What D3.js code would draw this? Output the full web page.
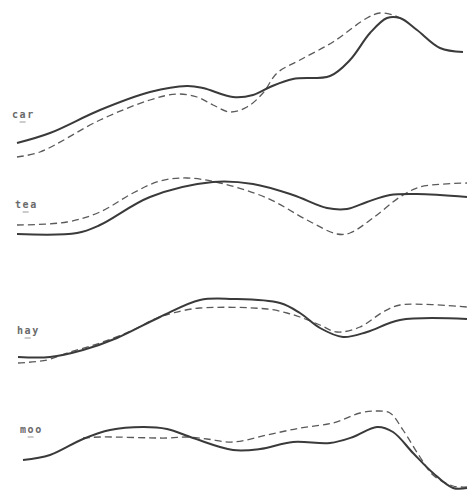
<!DOCTYPE html>
<html><head><meta charset="utf-8">
<script src="https://cdn.jsdelivr.net/npm/d3@7"></script>
<style>html,body{margin:0;padding:0;background:#fff;}</style>
</head><body>
<svg id="c" width="470" height="494"></svg>
<script>
const words = ["car", "tea", "hay", "moo"];
const stressIndex = [1, 1, 1, 1];

const carSolid = [[0,17],[33,27],[83,50],[133,68],[170,74],[186,72],[216,63],[236,65],[253,73],[276,81],[313,84],[333,100],[353,127],[370,142],[383,142],[400,130],[423,112],[446,108]];
const carDashed = [[0,3],[23,8],[83,40],[133,60],[160,66],[180,63],[196,55],[213,48],[230,53],[246,67],[260,87],[283,100],[316,118],[350,142],[363,147],[376,145],[383,142]];

const teaSolid = [[0,6],[60,7],[83,15],[133,43],[196,58],[236,56],[276,45],[310,32],[330,31],[350,38],[373,45],[400,46],[450,43]];
const teaDashed = [[0,15],[50,18],[83,28],[116,47],[143,59],[170,62],[203,57],[250,42],[290,20],[320,6],[333,7],[356,22],[383,43],[403,53],[450,57]];

const haySolid = [[1,8],[33,8],[66,15],[100,27],[143,48],[183,65],[216,66],[263,62],[283,52],[303,37],[326,28],[350,33],[383,45],[450,46]];
const hayDashed = [[1,2],[30,5],[50,12],[83,22],[116,35],[140,47],[156,52],[183,57],[250,56],[270,52],[283,48],[303,40],[320,33],[343,38],[366,53],[383,60],[450,58]];

const mooSolid = [[6,30],[33,35],[66,51],[93,60],[126,63],[150,61],[176,52],[216,40],[243,41],[276,48],[313,47],[336,53],[360,63],[376,58],[396,37],[416,17],[436,2],[450,2]];
const mooDashed = [[66,52],[83,53],[150,52],[170,53],[190,51],[216,48],[250,55],[283,62],[316,67],[343,77],[360,79],[373,77],[386,60],[403,33],[416,15],[436,4],[450,3]];

const solids = [carSolid, teaSolid, haySolid, mooSolid];
const dashes = [carDashed, teaDashed, hayDashed, mooDashed];

const panelBottoms = [160, 240, 365, 490];
const labelY = [118, 208, 334, 433];
const labelX = [12, 15, 17, 20];

const svg = d3.select("#c");
const x = d3.scaleLinear().domain([0, 450]).range([17, 467]);
const y = d3.scaleLinear().domain([0, 150]).range([150, 0]);
const line = d3.line().x(d => x(d[0])).y(d => y(d[1])).curve(d3.curveCatmullRom.alpha(0.5));

const fs = 10, ls = 1.6, cw = fs * 0.602 + ls;
words.forEach((w, i) => {
  const g = svg.append("g").attr("transform", `translate(0,${panelBottoms[i] - 150})`);
  g.append("path").attr("d", line(dashes[i])).attr("fill", "none")
    .attr("stroke", "#5a5a5a").attr("stroke-width", 1.3).attr("stroke-dasharray", "7,4");
  g.append("path").attr("d", line(solids[i])).attr("fill", "none")
    .attr("stroke", "#3a3a3a").attr("stroke-width", 2);
  svg.append("text").attr("x", labelX[i]).attr("y", labelY[i])
    .attr("font-family", "DejaVu Sans Mono").attr("font-size", fs).attr("font-weight", "bold")
    .attr("letter-spacing", ls).attr("fill", "#6a6a6a").text(w);
  svg.append("line").attr("x1", labelX[i] + cw * stressIndex[i]).attr("x2", labelX[i] + cw * (stressIndex[i] + 1) - ls)
    .attr("y1", labelY[i] + 4).attr("y2", labelY[i] + 4).attr("stroke", "#999").attr("stroke-width", 1);
});
</script>
</body></html>
